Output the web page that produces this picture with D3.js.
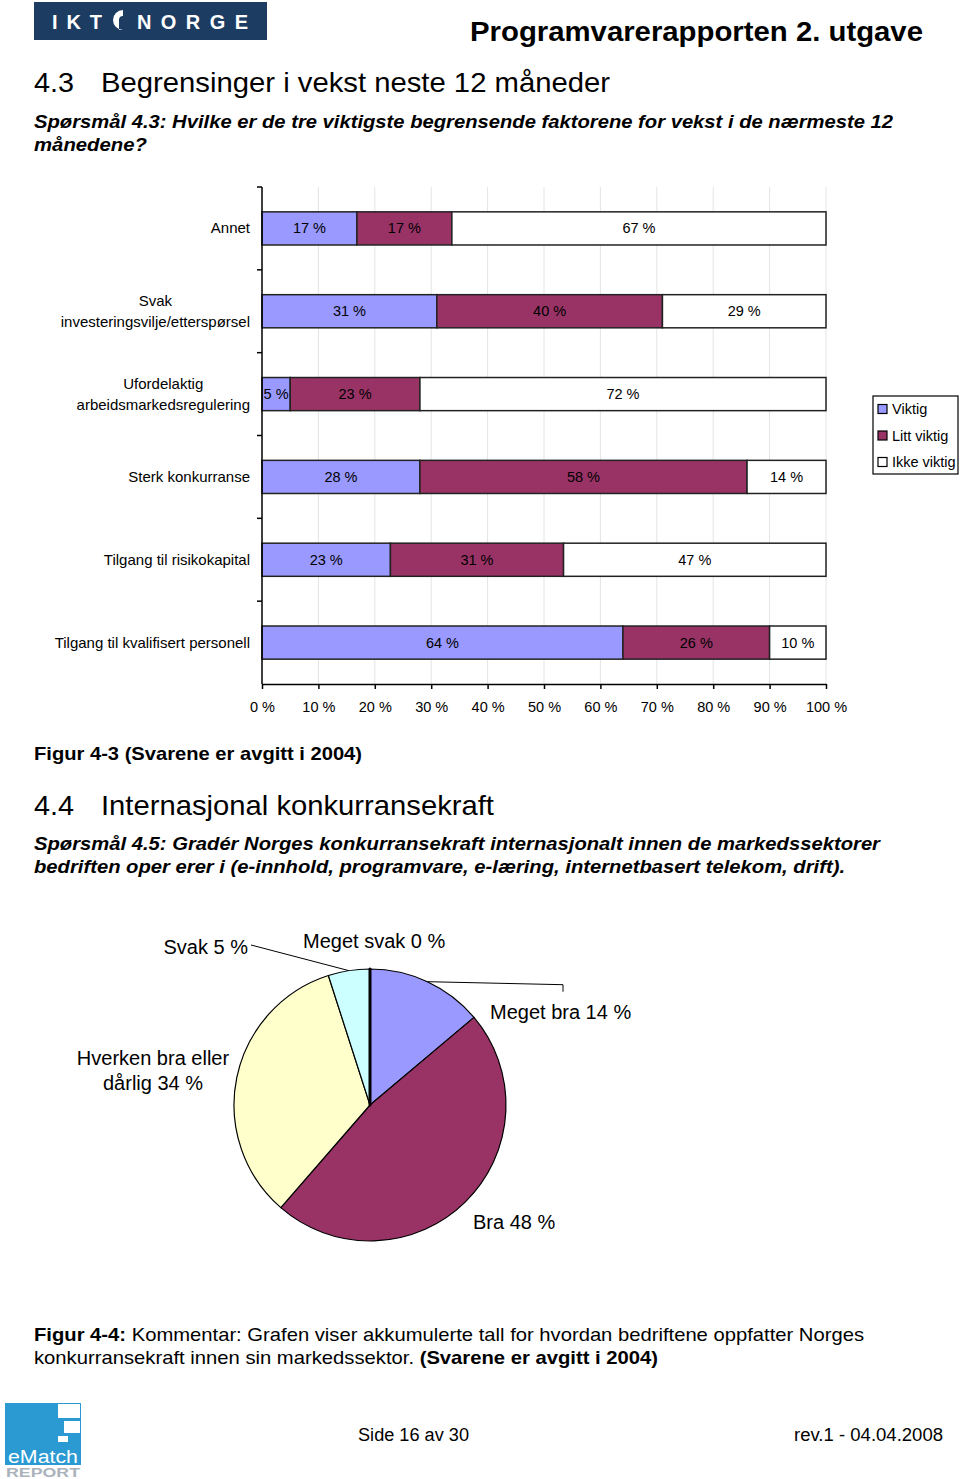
<!DOCTYPE html>
<html>
<head>
<meta charset="utf-8">
<script src="https://cdn.jsdelivr.net/npm/d3@7"></script>
<style>
  html, body { margin: 0; padding: 0; background: #fff; }
  svg { display: block; font-family: "Liberation Sans", Arial, sans-serif; }
</style>
</head>
<body>
<svg id="page" width="960" height="1479"></svg>
<script>
// ---------- DATA ----------
const categories = [
  "Annet",
  "Svak\ninvesteringsvilje/etterspørsel",
  "Ufordelaktig\narbeidsmarkedsregulering",
  "Sterk konkurranse",
  "Tilgang til risikokapital",
  "Tilgang til kvalifisert personell"
];
const seriesNames = ["Viktig", "Litt viktig", "Ikke viktig"];
const viktig     = [17, 31, 5, 28, 23, 64];
const littViktig = [17, 40, 23, 58, 31, 26];
const ikkeViktig = [67, 29, 72, 14, 47, 10];
const xTicks = [0, 10, 20, 30, 40, 50, 60, 70, 80, 90, 100];
const seriesColors = ["#9999FF", "#993366", "#FFFFFF"];

const pieLabels = ["Meget bra", "Bra", "Hverken bra eller dårlig", "Svak", "Meget svak"];
const pieValues = [14, 48, 34, 5, 0];
const pieColors = ["#9999FF", "#993366", "#FFFFCC", "#CCFFFF", "#000000"];

// ---------- PAGE ----------
const svg = d3.select("#page");
const FONT = '"Liberation Sans", Arial, sans-serif';

function txt(x, y, s, size, opts = {}) {
  const t = svg.append("text")
    .attr("x", x).attr("y", y)
    .attr("font-size", size)
    .attr("fill", opts.fill || "#000")
    .attr("font-weight", opts.weight || "normal")
    .attr("font-style", opts.style || "normal")
    .attr("text-anchor", opts.anchor || "start")
    .text(s);
  if (opts.len) t.attr("textLength", opts.len).attr("lengthAdjust", opts.adjust || "spacingAndGlyphs");
  return t;
}

// Header logo
svg.append("rect").attr("x", 34).attr("y", 2).attr("width", 233).attr("height", 38).attr("fill", "#1d3c62");
txt(52, 29, "IKT", 20, {fill: "#fff", weight: "bold", len: 50, adjust: "spacing"});
svg.append("path")
  .attr("d", "M128,30 A10,10 0 0 1 118,20 A10,10 0 0 1 128,10 L128,16 A4,4 0 0 0 124,20 L124,30 Z")
  .attr("fill", "#fff").attr("transform", "translate(-5,0)");
txt(137, 29, "NORGE", 20, {fill: "#fff", weight: "bold", len: 111, adjust: "spacing"});

txt(470, 41, "Programvarerapporten 2. utgave", 27, {weight: "900", len: 453});

txt(34, 92, "4.3", 28, {len: 40});
txt(101, 92, "Begrensinger i vekst neste 12 måneder", 28, {len: 509});
txt(34, 128, "Spørsmål 4.3: Hvilke er de tre viktigste begrensende faktorene for vekst i de nærmeste 12", 19, {weight: "bold", style: "italic", len: 859});
txt(34, 151, "månedene?", 19, {weight: "bold", style: "italic", len: 113});

txt(34, 760, "Figur 4-3 (Svarene er avgitt i 2004)", 19, {weight: "bold", len: 328});
txt(34, 815, "4.4", 28, {len: 40});
txt(101, 815, "Internasjonal konkurransekraft", 28, {len: 393});
txt(34, 850, "Spørsmål 4.5: Gradér Norges konkurransekraft internasjonalt innen de markedssektorer", 19, {weight: "bold", style: "italic", len: 846});
txt(34, 873, "bedriften oper erer i (e-innhold, programvare, e-læring, internetbasert telekom, drift).", 19, {weight: "bold", style: "italic", len: 811});

// Figur 4-4 caption
{
  const t1 = svg.append("text").attr("x", 34).attr("y", 1341).attr("font-size", 19)
    .attr("textLength", 830).attr("lengthAdjust", "spacingAndGlyphs");
  t1.append("tspan").attr("font-weight", "bold").text("Figur 4-4:");
  t1.append("tspan").text(" Kommentar: Grafen viser akkumulerte tall for hvordan bedriftene oppfatter Norges");
  const t2 = svg.append("text").attr("x", 34).attr("y", 1364).attr("font-size", 19)
    .attr("textLength", 624).attr("lengthAdjust", "spacingAndGlyphs");
  t2.append("tspan").text("konkurransekraft innen sin markedssektor. ");
  t2.append("tspan").attr("font-weight", "bold").text("(Svarene er avgitt i 2004)");
}

// Footer
svg.append("rect").attr("x", 5).attr("y", 1403).attr("width", 76).attr("height", 62).attr("fill", "#2b9ad2");
svg.append("rect").attr("x", 58).attr("y", 1404).attr("width", 22).attr("height", 14).attr("fill", "#fff");
svg.append("rect").attr("x", 64).attr("y", 1421).attr("width", 16).attr("height", 12).attr("fill", "#fff");
svg.append("rect").attr("x", 58).attr("y", 1436).attr("width", 10).attr("height", 6).attr("fill", "#fff");
txt(8, 1463, "eMatch", 18, {fill: "#fff", len: 70});
txt(6, 1477, "REPORT", 13, {fill: "#aab3bb", weight: "bold", len: 74});
txt(358, 1441, "Side 16 av 30", 18, {len: 111});
txt(943, 1441, "rev.1 - 04.04.2008", 18, {anchor: "end", len: 149});

// ---------- BAR CHART ----------
const totals = categories.map((c, i) => viktig[i] + littViktig[i] + ikkeViktig[i]);
const rows = categories.map((c, i) => ({cat: c, vals: [viktig[i], littViktig[i], ikkeViktig[i]], total: totals[i]}));

const x = d3.scaleLinear().domain([0, 100]).range([262, 826]);
const y = d3.scaleBand().domain(categories).range([187, 684]).paddingInner(0.6).paddingOuter(0.3);

const bar = svg.append("g");

// gridlines
bar.append("g").selectAll("line").data(xTicks.filter(d => d > 0)).join("line")
  .attr("x1", d => x(d)).attr("x2", d => x(d))
  .attr("y1", 187).attr("y2", 684)
  .attr("stroke", "#e4e4e4").attr("stroke-width", 1);

// stacked bars (100% stacked)
rows.forEach(r => {
  let acc = 0;
  r.vals.forEach((v, s) => {
    const p0 = acc / r.total * 100;
    acc += v;
    const p1 = acc / r.total * 100;
    bar.append("rect")
      .attr("x", x(p0)).attr("y", y(r.cat))
      .attr("width", x(p1) - x(p0)).attr("height", y.bandwidth())
      .attr("fill", seriesColors[s])
      .attr("stroke", "#222").attr("stroke-width", 1.5);
    bar.append("text")
      .attr("x", (x(p0) + x(p1)) / 2)
      .attr("y", y(r.cat) + y.bandwidth() / 2 + 5)
      .attr("text-anchor", "middle")
      .attr("font-size", 14.5)
      .attr("fill", "#000")
      .text(v + " %");
  });
});

// x axis
const xAxis = d3.axisBottom(x).tickValues(xTicks).tickFormat(d => d + " %").tickSize(5).tickSizeOuter(0);
const gx = bar.append("g").attr("transform", "translate(0,684)").call(xAxis);
gx.select(".domain").attr("stroke", "#000").attr("stroke-width", 1.5);
gx.selectAll(".tick line").attr("stroke", "#000").attr("stroke-width", 1.5);
gx.selectAll(".tick text").attr("font-size", 14.5).attr("font-family", FONT).attr("fill", "#000").attr("y", 13).attr("dy", "1em");

// y axis line + boundary ticks
bar.append("line").attr("x1", 262).attr("x2", 262).attr("y1", 187).attr("y2", 684)
  .attr("stroke", "#000").attr("stroke-width", 1.5);
const bounds = d3.range(categories.length).map(i => y.range()[0] + i * y.step());
bar.append("g").selectAll("line").data(bounds).join("line")
  .attr("x1", 257).attr("x2", 262).attr("y1", d => d).attr("y2", d => d)
  .attr("stroke", "#000").attr("stroke-width", 1.5);

// category labels
categories.forEach(c => {
  const lines = c.split("\n");
  const cy = y(c) + y.bandwidth() / 2;
  const g = bar.append("g");
  const tEls = lines.map((l, i) => g.append("text")
    .attr("font-size", 15).attr("fill", "#000")
    .attr("y", cy + 5 + (i - (lines.length - 1) / 2) * 21)
    .text(l));
  const maxW = d3.max(tEls, t => t.node().getComputedTextLength());
  const center = 250 - maxW / 2;
  tEls.forEach(t => t.attr("x", center).attr("text-anchor", "middle"));
});

// legend
const lg = bar.append("g");
lg.append("rect").attr("x", 873).attr("y", 396).attr("width", 85).attr("height", 78)
  .attr("fill", "#fff").attr("stroke", "#000").attr("stroke-width", 1.2);
seriesNames.forEach((n, i) => {
  const yy = 409 + i * 26.5;
  lg.append("rect").attr("x", 878).attr("y", yy - 4.5).attr("width", 9).attr("height", 9)
    .attr("fill", seriesColors[i]).attr("stroke", "#000").attr("stroke-width", 1.2);
  lg.append("text").attr("x", 892).attr("y", yy + 5).attr("font-size", 14.5).text(n);
});

// ---------- PIE CHART ----------
const cx = 370, cyP = 1105, R = 136;
const pie = d3.pie().sort(null).value(d => d)(pieValues);
const arc = d3.arc().innerRadius(0).outerRadius(R);
const pg = svg.append("g").attr("transform", `translate(${cx},${cyP})`);
pg.selectAll("path").data(pie).join("path")
  .attr("d", arc)
  .attr("fill", (d, i) => pieColors[i])
  .attr("stroke", "#000")
  .attr("stroke-width", (d, i) => pieValues[i] === 0 ? 3 : 1.2)
  .attr("stroke-linejoin", "round");

function edgePt(d) {
  const a = (d.startAngle + d.endAngle) / 2;
  return [cx + R * Math.sin(a), cyP - R * Math.cos(a)];
}
const pieLabelText = [
  ["Meget bra 14 %"],
  ["Bra 48 %"],
  ["Hverken bra eller", "dårlig 34 %"],
  ["Svak 5 %"],
  ["Meget svak 0 %"]
];
// label anchor positions relative to pie center
const pieLabelPos = [[120, -86], [103, 124], [-217, -40], [-122, -151], [-67, -157]];
const pieLabelAnchor = ["start", "start", "middle", "end", "start"];
pieLabelText.forEach((lines, i) => {
  lines.forEach((l, j) => {
    svg.append("text")
      .attr("x", cx + pieLabelPos[i][0]).attr("y", cyP + pieLabelPos[i][1] + j * 25)
      .attr("text-anchor", pieLabelAnchor[i])
      .attr("font-size", 20).attr("fill", "#000")
      .text(l);
  });
});
// leader lines
{
  const pMB = edgePt(pie[0]);
  svg.append("polyline")
    .attr("points", [[pMB[0], pMB[1]], [cx + 193, pMB[1] + 3], [cx + 193, pMB[1] + 10]].map(p => p.join(",")).join(" "))
    .attr("fill", "none").attr("stroke", "#000").attr("stroke-width", 1);
  const pS = edgePt(pie[3]);
  svg.append("line")
    .attr("x1", cx - 119).attr("y1", cyP - 160)
    .attr("x2", pS[0]).attr("y2", pS[1])
    .attr("stroke", "#000").attr("stroke-width", 1);
}
</script>
</body>
</html>
